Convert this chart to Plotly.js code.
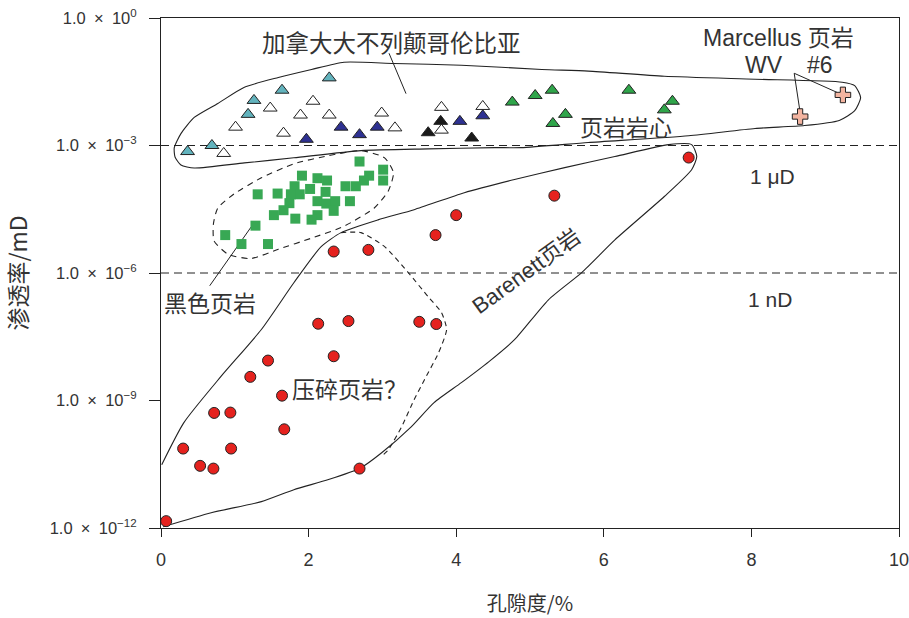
<!DOCTYPE html>
<html><head><meta charset="utf-8">
<script src="https://cdn.plot.ly/plotly-3.0.1.min.js"></script>
<style>html,body{margin:0;padding:0;background:#fff}#chart{width:909px;height:618px}</style>
</head><body><div id="chart"></div>
<script>
// ---- Data (porosity %, permeability mD) ----
var bcTealX = [0.36, 0.69, 1.18, 1.26, 1.64, 2.28];
var bcTealY = [7.2e-4, 1.0e-3, 5.4e-3, 1.15e-2, 2.0e-2, 3.9e-2];
var bcWhiteX = [0.85, 1.01, 1.48, 1.66, 1.89, 2.06, 2.28, 2.99, 3.17, 3.80, 3.80, 4.36];
var bcWhiteY = [6.5e-4, 2.7e-3, 7.6e-3, 1.95e-3, 5.2e-3, 1.1e-2, 5.2e-3, 5.8e-3, 2.6e-3, 7.9e-3, 2.3e-3, 8.3e-3];
var bcBlueX = [1.97, 2.44, 2.69, 2.93, 4.05, 4.36];
var bcBlueY = [1.4e-3, 2.7e-3, 1.8e-3, 2.7e-3, 3.7e-3, 5.0e-3];
var bcBlackX = [3.62, 3.79, 4.21];
var bcBlackY = [2.0e-3, 3.7e-3, 1.5e-3];
var bcGreenX = [4.76, 5.07, 5.30, 6.34, 6.93, 6.82, 5.48, 5.31];
var bcGreenY = [1.05e-2, 1.5e-2, 2.0e-2, 2.0e-2, 1.1e-2, 6.9e-3, 5.4e-3, 3.3e-3];
var marcellusX = [8.66, 9.24];
var marcellusY = [4.8e-3, 1.55e-2];
var blackShaleX = [2.69, 3.01, 3.01, 2.82, 2.75, 2.64, 2.50, 2.56, 2.25, 2.12, 1.91, 1.81, 2.02, 2.23, 1.88, 1.76,
                   1.58, 1.31, 2.12, 2.24, 2.36, 2.34, 1.74, 1.66, 1.53, 2.12, 2.04, 1.82, 1.28, 0.87, 1.09, 1.45];
var blackShaleY = [4.2e-4, 2.7e-4, 1.5e-4, 1.95e-4, 1.5e-4, 1.1e-4, 1.1e-4, 4.9e-5, 1.5e-4, 1.7e-4, 1.95e-4, 1.1e-4, 9.5e-5, 8.1e-5, 7.1e-5, 7.1e-5,
                   7.4e-5, 7.1e-5, 4.9e-5, 4.3e-5, 4.9e-5, 2.9e-5, 4.4e-5, 3.0e-5, 2.3e-5, 2.3e-5, 1.8e-5, 1.9e-5, 1.3e-5, 7.8e-6, 4.8e-6, 4.8e-6];
var barnettX = [2.34, 2.81, 3.72, 2.13, 2.54, 3.50, 3.73, 2.34, 1.45, 1.21, 1.64, 0.72, 0.94, 1.67, 0.30, 0.95,
                0.53, 0.71, 2.69, 0.07, 7.15, 5.33, 4.00];
var barnettY = [3.2e-6, 3.5e-6, 7.8e-6, 6.4e-8, 7.4e-8, 7.1e-8, 6.3e-8, 1.1e-8, 8.7e-9, 3.6e-9, 1.3e-9, 5.1e-10, 5.2e-10, 2.1e-10, 7.4e-11, 7.4e-11,
                2.9e-11, 2.5e-11, 2.5e-11, 1.45e-12, 5.2e-4, 6.6e-5, 2.3e-5];

// envelopes (porosity, log10 permeability)
var coreEnvX = [0.27,0.45,0.77,1.13,1.59,2.04,2.48,3.16,4.07,5.16,5.79,6.82,8.05,9.23,9.40,9.48,9.40,9.19,8.72,8.05,7.15,5.79,4.88,4.52,3.62,2.71,1.80,1.13,0.45,0.27,0.19,0.18,0.27];
var coreEnvLogY = [-2.72,-2.34,-2.01,-1.63,-1.40,-1.21,-1.04,-1.07,-1.11,-1.21,-1.25,-1.37,-1.44,-1.51,-1.59,-1.87,-2.18,-2.41,-2.53,-2.60,-2.77,-2.93,-3.05,-3.05,-3.08,-3.12,-3.29,-3.41,-3.53,-3.46,-3.27,-3.05,-2.72];
var blackEnvX = [0.71,0.72,0.91,1.22,1.59,2.04,2.48,2.89,3.08,3.15,3.03,2.71,2.27,1.80,1.36,0.99,0.77,0.71];
var blackEnvLogY = [-4.85,-5.25,-5.56,-5.66,-5.44,-5.18,-4.90,-4.47,-4.07,-3.64,-3.29,-3.12,-3.24,-3.43,-3.76,-4.14,-4.47,-4.85];
var barnettEnvX = [0.01,0.31,0.81,1.36,1.80,2.17,2.44,2.94,3.43,4.11,4.79,5.47,6.15,6.88,7.19,7.26,7.19,6.82,6.15,5.70,5.25,4.79,4.44,4.07,3.70,3.39,2.99,2.71,2.27,1.80,1.36,0.68,0.03];
var barnettEnvLogY = [-10.51,-9.52,-8.44,-7.33,-6.23,-5.38,-5.05,-4.75,-4.51,-4.11,-3.80,-3.52,-3.26,-2.98,-2.98,-3.26,-3.57,-4.20,-5.22,-5.99,-6.63,-7.57,-8.09,-8.58,-9.05,-9.62,-10.23,-10.58,-10.86,-11.10,-11.38,-11.64,-11.97];
var crushedEnvX = [2.44,2.71,3.03,3.35,3.62,3.80,3.87,3.76,3.57,3.43,3.26,3.08,3.01];
var crushedEnvLogY = [-5.05,-5.05,-5.38,-5.99,-6.56,-6.93,-7.33,-7.88,-8.51,-8.98,-9.62,-10.16,-10.28];

// leader lines
var bcLeaderX = [3.09, 3.32], bcLeaderLogY = [-0.83, -1.78];
var blackLeaderX = [1.22, 0.66], blackLeaderLogY = [-4.92, -6.30];
var mLeaderX = [8.66, 8.58, 9.16], mLeaderLogY = [-2.22, -1.30, -1.75];

// reference lines
var refLinesY = [1e-3, 1e-6];

// axis ticks
var yTickVals = [1, 1e-3, 1e-6, 1e-9, 1e-12];
var yTickText = ['1.0\u2002×\u200210<sup>0</sup>', '1.0\u2002×\u200210<sup>−3</sup>', '1.0\u2002×\u200210<sup>−6</sup>', '1.0\u2002×\u200210<sup>−9</sup>', '1.0\u2002×\u200210<sup>−12</sup>'];
var xTickVals = [0, 2, 4, 6, 8, 10];

function pw(a){ return a.map(function(v){ return Math.pow(10, v); }); }

var ink = '#222';
var txt = '#333';
var FONT = 'Liberation Sans, Arial, Noto Sans CJK SC, sans-serif';
var CJK = 'Noto Sans CJK SC, Liberation Sans, sans-serif';

function lineTrace(x, y, dash){
  return {x: x, y: y, mode: 'lines', type: 'scatter', hoverinfo: 'skip',
          line: {color: ink, width: 1.1, dash: dash || 'solid', shape: 'spline', smoothing: 0.6}};
}
function straight(x, y, dash, w){
  return {x: x, y: y, mode: 'lines', type: 'scatter', hoverinfo: 'skip',
          line: {color: ink, width: w || 1, dash: dash || 'solid'}};
}
function markers(x, y, sym, size, color, lw){
  return {x: x, y: y, mode: 'markers', type: 'scatter',
          marker: {symbol: sym, size: size, color: color, line: {color: ink, width: lw}}};
}

var traces = [
  straight([0, 10], [refLinesY[0], refLinesY[0]], '8px,5px', 1),
  straight([0, 10], [refLinesY[1], refLinesY[1]], '8px,5px', 1),
  lineTrace(coreEnvX, pw(coreEnvLogY)),
  lineTrace(blackEnvX, pw(blackEnvLogY), '6px,5px'),
  lineTrace(barnettEnvX, pw(barnettEnvLogY)),
  lineTrace(crushedEnvX, pw(crushedEnvLogY), '5px,4px'),
  straight(bcLeaderX, pw(bcLeaderLogY)),
  straight(blackLeaderX, pw(blackLeaderLogY)),
  straight(mLeaderX, pw(mLeaderLogY)),
  markers(blackShaleX, blackShaleY, 'square', 10, '#38a854', 0),
  markers(barnettX, barnettY, 'circle', 11, '#e5221e', 1),
  markers(bcTealX, bcTealY, 'triangle-up', 12, '#62b3bd', 1),
  markers(bcWhiteX, bcWhiteY, 'triangle-up', 12, '#ffffff', 1),
  markers(bcBlueX, bcBlueY, 'triangle-up', 12, '#2e3192', 1),
  markers(bcBlackX, bcBlackY, 'triangle-up', 12, '#1a1a1a', 1),
  markers(bcGreenX, bcGreenY, 'triangle-up', 12, '#2fa54a', 1),
  markers(marcellusX, marcellusY, 'cross', 13, '#f3b4a0', 1)
];

function ann(text, x, logy, size, fam, extra){
  var a = {text: text, x: x, y: logy, xref: 'x', yref: 'y', showarrow: false,
           font: {family: fam, size: size, color: txt}, xanchor: 'center', yanchor: 'middle'};
  if (extra) for (var k in extra) a[k] = extra[k];
  return a;
}

var layout = {
  width: 909, height: 618,
  margin: {l: 161, r: 10, t: 18, b: 90},
  paper_bgcolor: '#fff', plot_bgcolor: '#fff',
  showlegend: false,
  font: {family: FONT, color: txt},
  xaxis: {
    range: [0, 10], tickvals: xTickVals, ticks: 'outside', ticklen: 8, tickcolor: ink, tickwidth: 1,
    ticklabelstandoff: 7, ticklabeloverflow: 'allow',
    showline: true, linecolor: ink, linewidth: 1, mirror: true, showgrid: false, zeroline: false,
    tickfont: {family: 'Liberation Sans Narrow, Liberation Sans, sans-serif', size: 18, color: txt},
    title: {text: '孔隙度/%', font: {family: CJK, size: 20, color: txt}, standoff: 28}
  },
  yaxis: {
    type: 'log', range: [-12, 0], tickvals: yTickVals, ticktext: yTickText,
    ticks: 'outside', ticklen: 11, tickcolor: ink, tickwidth: 1,
    ticklabelstandoff: 9, ticklabeloverflow: 'allow',
    showline: true, linecolor: ink, linewidth: 1, mirror: true, showgrid: false, zeroline: false,
    tickfont: {family: FONT, size: 16.5, color: txt},
    title: {text: '渗透率/mD', font: {family: CJK, size: 23, color: txt}, standoff: 16}
  },
  annotations: [
    ann('加拿大大不列颠哥伦比亚', 3.12, -0.57, 23.5, CJK),
    ann('Marcellus 页岩', 8.37, -0.47, 23, FONT),
    ann('WV', 8.17, -1.11, 23, FONT),
    ann('#6', 8.93, -1.11, 23, FONT),
    ann('页岩岩心', 6.30, -2.53, 23, CJK),
    ann('1 μD', 8.28, -3.72, 21, FONT),
    ann('1 nD', 8.25, -6.63, 21, FONT),
    ann('Barenett页岩', 4.95, -5.97, 22, FONT, {textangle: -36}),
    ann('黑色页岩', 0.66, -6.68, 23, CJK),
    ann('压碎页岩？', 2.56, -8.70, 23, CJK)
  ]
};

Plotly.newPlot('chart', traces, layout, {staticPlot: true, displayModeBar: false});
</script></body></html>
